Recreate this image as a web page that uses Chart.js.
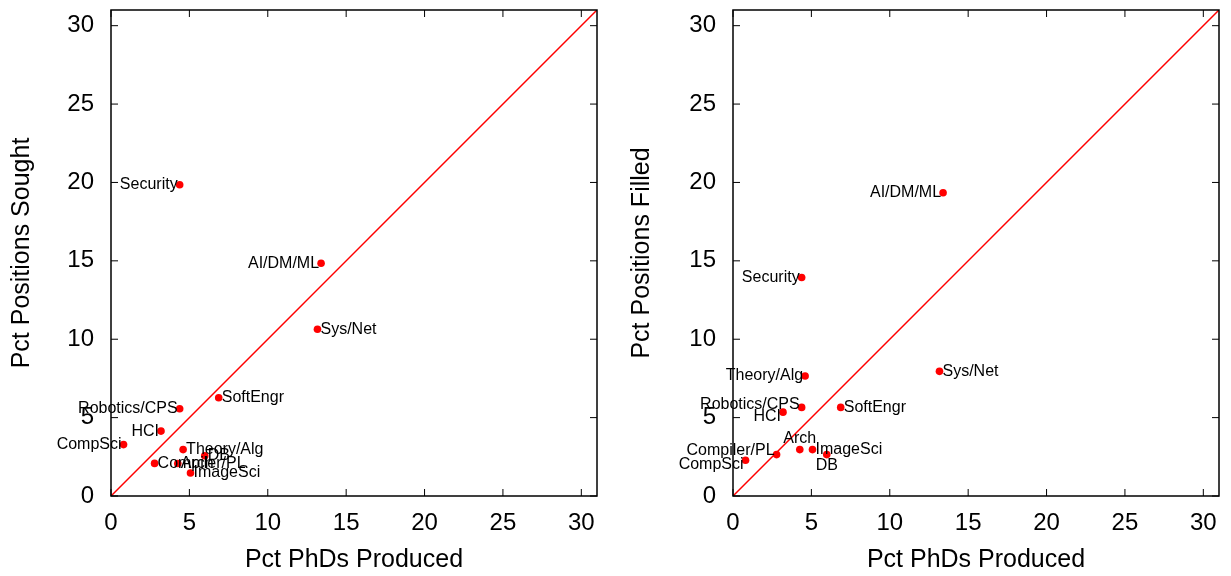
<!DOCTYPE html>
<html>
<head>
<meta charset="utf-8">
<script src="https://cdn.jsdelivr.net/npm/chart.js@4.4.1/dist/chart.umd.min.js"></script>
<style>
  html, body { margin: 0; padding: 0; background: #fff; }
  #wrap { position: relative; width: 1231px; height: 576px; }
  .panel { position: absolute; top: 0; height: 576px; }
</style>
</head>
<body>
<div id="wrap">
  <div class="panel" style="left:0;width:615px"><canvas id="sought"></canvas></div>
  <div class="panel" style="left:615px;width:616px"><canvas id="filled"></canvas></div>
</div>
<script>
// areas, same order in every array
const areas = ['Security', 'AI/DM/ML', 'Sys/Net', 'SoftEngr', 'Robotics/CPS', 'HCI',
  'CompSci', 'Theory/Alg', 'DB', 'Compiler/PL', 'Arch', 'ImageSci'];
const phdsProduced = [4.38, 13.4, 13.17, 6.87, 4.38, 3.19, 0.8, 4.6, 5.98, 2.78, 4.26, 5.07];
const positionsSought = [19.85, 14.85, 10.64, 6.27, 5.57, 4.14, 3.28, 2.96, 2.57, 2.08, 2.07, 1.47];
const positionsFilled = [13.94, 19.34, 7.95, 5.65, 5.65, 5.35, 2.28, 7.65, 2.64, 2.64, 2.96, 2.96];
const tickValues = [0, 5, 10, 15, 20, 25, 30];
const axisMax = 31;

// where each label sits relative to its point
const soughtPlace = ['left', 'left', 'right', 'right', 'left', 'left',
  'left', 'right', 'right', 'right', 'right', 'right'];
const filledPlace = ['left', 'left', 'right', 'right', 'left', 'left',
  'left', 'left', 'below', 'left', 'above', 'right'];
const filledShift = [0, 0, 0, 0, -3, 4, 4, 0, 0, -4, 0, 0];

const FONT = 'Liberation Sans, Arial, Helvetica, sans-serif';

const frame = {
  id: 'frame',
  afterDatasetsDraw(chart) {
    const {ctx, chartArea: a, scales} = chart;
    ctx.save();
    ctx.strokeStyle = '#000';
    ctx.lineWidth = 1;
    ctx.beginPath();
    tickValues.forEach(v => {
      const px = scales.x.getPixelForValue(v);
      const py = scales.y.getPixelForValue(v);
      ctx.moveTo(px, a.bottom); ctx.lineTo(px, a.bottom - 7);
      ctx.moveTo(px, a.top); ctx.lineTo(px, a.top + 7);
      ctx.moveTo(a.left, py); ctx.lineTo(a.left + 7, py);
      ctx.moveTo(a.right, py); ctx.lineTo(a.right - 7, py);
    });
    ctx.stroke();
    ctx.lineWidth = 1.5;
    ctx.strokeRect(a.left, a.top, a.right - a.left, a.bottom - a.top);
    // point labels
    const meta = chart.getDatasetMeta(1);
    const opt = chart.options.plugins.frame;
    ctx.fillStyle = '#000';
    ctx.font = '16px ' + FONT;
    ctx.textBaseline = 'middle';
    meta.data.forEach((pt, i) => {
      const place = opt.place[i];
      const dy = opt.shift ? opt.shift[i] : 0;
      let x = pt.x, y = pt.y + dy;
      if (place === 'left') { ctx.textAlign = 'right'; x -= 2; }
      else if (place === 'right') { ctx.textAlign = 'left'; x += 3; }
      else if (place === 'above') { ctx.textAlign = 'center'; y -= 11; }
      else { ctx.textAlign = 'center'; y += 11; }
      ctx.fillText(areas[i], x, y);
    });
    ctx.restore();
  }
};

function makeChart(id, yValues, yTitle, yWidth, titlePad, padRight, place, shift) {
  return new Chart(document.getElementById(id), {
    type: 'scatter',
    data: {
      datasets: [{
        type: 'line',
        data: [{x: 0, y: 0}, {x: axisMax, y: axisMax}],
        borderColor: '#ff0000',
        borderWidth: 1.5,
        pointRadius: 0,
        fill: false
      }, {
        data: phdsProduced.map((x, i) => ({x: x, y: yValues[i]})),
        backgroundColor: '#ff0000',
        borderWidth: 0,
        pointRadius: 3.8
      }]
    },
    options: {
      responsive: true,
      maintainAspectRatio: false,
      animation: false,
      layout: {padding: {top: 10, right: padRight, bottom: 0, left: 0}},
      plugins: {
        legend: {display: false},
        tooltip: {enabled: false},
        frame: {place: place, shift: shift}
      },
      scales: {
        x: {
          type: 'linear', min: 0, max: axisMax,
          afterBuildTicks: s => { s.ticks = tickValues.map(v => ({value: v})); },
          afterFit: s => { s.height = 80; s.paddingLeft = 0; s.paddingRight = 0; },
          grid: {display: false, drawTicks: false},
          border: {display: false},
          ticks: {color: '#000', padding: 13, maxRotation: 0, font: {family: FONT, size: 24}},
          title: {display: true, text: 'Pct PhDs Produced', color: '#000',
            font: {family: FONT, size: 25}, padding: {top: 0, bottom: 1}}
        },
        y: {
          type: 'linear', min: 0, max: axisMax,
          afterBuildTicks: s => { s.ticks = tickValues.map(v => ({value: v})); },
          afterFit: s => { s.width = yWidth; s.paddingTop = 0; s.paddingBottom = 0; },
          grid: {display: false, drawTicks: false},
          border: {display: false},
          ticks: {color: '#000', padding: 17, font: {family: FONT, size: 24}},
          title: {display: true, text: yTitle, color: '#000',
            font: {family: FONT, size: 25}, padding: {top: titlePad, bottom: 0}}
        }
      }
    },
    plugins: [frame]
  });
}

makeChart('sought', positionsSought, 'Pct Positions Sought', 111, 7, 18, soughtPlace, null);
makeChart('filled', positionsFilled, 'Pct Positions Filled', 118, 12, 12, filledPlace, filledShift);
</script>
</body>
</html>
